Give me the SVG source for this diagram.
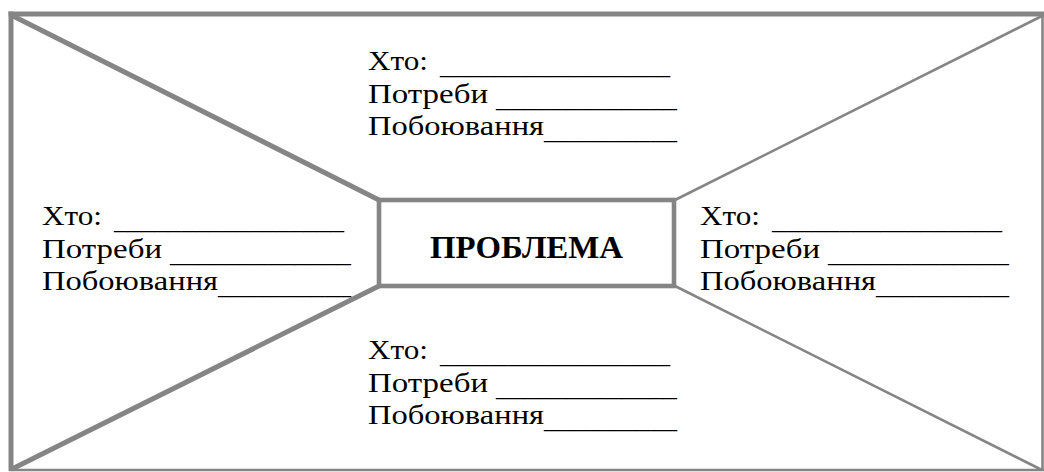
<svg xmlns="http://www.w3.org/2000/svg" width="1044" height="472" viewBox="0 0 1044 472">
<style>
.ln{stroke:#858585;fill:none;stroke-linecap:butt}
.thick{stroke-width:5}
.thin{stroke-width:2.6}
.t{font-family:"Liberation Serif","Times New Roman",serif;font-size:28px;fill:#000}
.u{font-family:"Liberation Serif","Times New Roman",serif;font-size:28px;fill:#000}
.b{font-family:"Liberation Serif","Times New Roman",serif;font-size:31px;font-weight:bold;fill:#000}
</style>
<defs>
<g id="blk">
<text class="t" x="0" y="0" textLength="60" lengthAdjust="spacingAndGlyphs">Хто:</text>
<text class="u" x="72" y="4" textLength="230" lengthAdjust="spacingAndGlyphs">_________________</text>
<text class="t" x="0" y="32.5" textLength="120" lengthAdjust="spacingAndGlyphs">Потреби</text>
<text class="u" x="128" y="36.5" textLength="181" lengthAdjust="spacingAndGlyphs">_____________</text>
<text class="t" x="0" y="65" textLength="176" lengthAdjust="spacingAndGlyphs">Побоювання</text>
<text class="u" x="176" y="69" textLength="133" lengthAdjust="spacingAndGlyphs">__________</text>
</g>
</defs>
<rect x="0" y="0" width="1044" height="472" fill="#fff"/>
<g id="frame">
<line class="ln thick" x1="8.5" y1="14" x2="1044" y2="14"/>
<line class="ln thick" x1="11" y1="11.5" x2="11" y2="471"/>
<line class="ln thin" x1="1042.5" y1="14" x2="1042.5" y2="471"/>
<line class="ln thin" x1="9" y1="470" x2="1044" y2="470"/>
</g>
<g id="connectors">
<line class="ln thick" x1="13" y1="16" x2="379" y2="200"/>
<line class="ln thin" x1="1042" y1="16" x2="675" y2="200"/>
<line class="ln thin" x1="675" y1="286" x2="1042" y2="470"/>
<line class="ln thick" x1="379" y1="286" x2="12" y2="469"/>
</g>
<g id="problem">
<rect class="ln" x="379" y="200" width="295" height="86" stroke-width="4.6" fill="#fff"/>
<text class="b" x="526.5" y="258" text-anchor="middle" textLength="193" lengthAdjust="spacingAndGlyphs">ПРОБЛЕМА</text>
</g>
<g id="stakeholder-top"><use href="#blk" x="368" y="70"/></g>
<g id="stakeholder-left"><use href="#blk" x="42" y="225"/></g>
<g id="stakeholder-right"><use href="#blk" x="700" y="225"/></g>
<g id="stakeholder-bottom"><use href="#blk" x="368" y="359"/></g>
</svg>
